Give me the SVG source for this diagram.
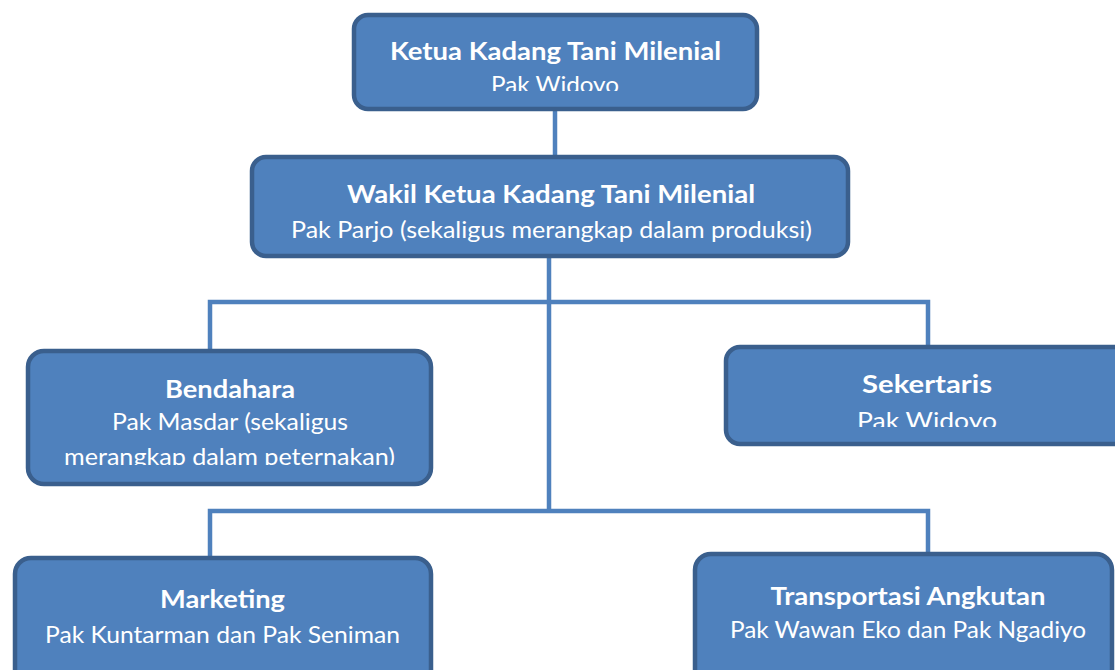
<svg xmlns="http://www.w3.org/2000/svg" width="1115" height="670" viewBox="0 0 1115 670">
<style>
.box{fill:#4F81BD;stroke:#3A5F8D;stroke-width:4.5}
.conn{fill:none;stroke:#4F81BD;stroke-width:4.5;stroke-linejoin:miter}
text{font-family:Lato,"Open Sans","Liberation Sans",sans-serif;fill:#FFFFFF;font-size:24px;text-anchor:middle}
.t{font-weight:bold}
</style>
<defs>
<clipPath id="c1"><rect x="340" y="0" width="430" height="91"/></clipPath>
<clipPath id="c3"><rect x="0" y="300" width="450" height="165"/></clipPath>
<clipPath id="c4"><rect x="700" y="300" width="415" height="127"/></clipPath>
</defs>
<g id="connectors">
<path class="conn" d="M555 111 V157"/>
<path class="conn" d="M549 256 V511"/>
<path class="conn" d="M210 351 V302 H928 V347"/>
<path class="conn" d="M210 558 V511 H928 V554"/>
</g>
<g id="ketua">
<rect class="box" x="354" y="15" width="403" height="94" rx="14"/>
<text class="t" x="555.5" y="60" textLength="331" lengthAdjust="spacingAndGlyphs">Ketua Kadang Tani Milenial</text>
<g clip-path="url(#c1)"><text x="555" y="93" textLength="128" lengthAdjust="spacingAndGlyphs">Pak Widoyo</text></g>
</g>
<g id="wakil">
<rect class="box" x="252" y="157" width="596" height="99" rx="14"/>
<text class="t" x="551" y="203" textLength="408" lengthAdjust="spacingAndGlyphs">Wakil Ketua Kadang Tani Milenial</text>
<text x="551.5" y="238" textLength="521" lengthAdjust="spacingAndGlyphs">Pak Parjo (sekaligus merangkap dalam produksi)</text>
</g>
<g id="bendahara">
<rect class="box" x="28" y="351" width="403" height="133" rx="16"/>
<text class="t" x="230" y="398" textLength="130" lengthAdjust="spacingAndGlyphs">Bendahara</text>
<text x="230" y="430" textLength="236" lengthAdjust="spacingAndGlyphs">Pak Masdar (sekaligus</text>
<g clip-path="url(#c3)"><text x="229.5" y="465" textLength="331" lengthAdjust="spacingAndGlyphs">merangkap dalam peternakan)</text></g>
</g>
<g id="sekertaris">
<rect class="box" x="726" y="347" width="402" height="97" rx="14"/>
<text class="t" x="927" y="393" textLength="130" lengthAdjust="spacingAndGlyphs">Sekertaris</text>
<g clip-path="url(#c4)"><text x="927" y="429" textLength="140" lengthAdjust="spacingAndGlyphs">Pak Widoyo</text></g>
</g>
<g id="marketing">
<rect class="box" x="15" y="558" width="416" height="140" rx="16"/>
<text class="t" x="222.5" y="608" textLength="125" lengthAdjust="spacingAndGlyphs">Marketing</text>
<text x="222.5" y="643" textLength="355" lengthAdjust="spacingAndGlyphs">Pak Kuntarman dan Pak Seniman</text>
</g>
<g id="transportasi">
<rect class="box" x="695" y="554" width="417" height="140" rx="16"/>
<text class="t" x="908" y="605" textLength="275" lengthAdjust="spacingAndGlyphs">Transportasi Angkutan</text>
<text x="908" y="638" textLength="356" lengthAdjust="spacingAndGlyphs">Pak Wawan Eko dan Pak Ngadiyo</text>
</g>
</svg>
